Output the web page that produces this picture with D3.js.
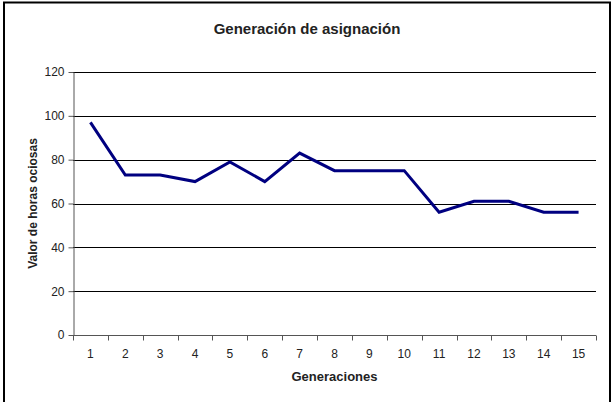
<!DOCTYPE html>
<html>
<head>
<meta charset="utf-8">
<script src="https://cdn.jsdelivr.net/npm/d3@7"></script>
<style>
  body { margin: 0; background: #fff; }
  text { font-family: "Liberation Sans", Arial, sans-serif; }
</style>
</head>
<body>
<div id="chart"></div>
<script>
// chart data
var generations = [1, 2, 3, 4, 5, 6, 7, 8, 9, 10, 11, 12, 13, 14, 15];
var idleHours = [97, 73, 73, 70, 79, 70, 83, 75, 75, 75, 56, 61, 61, 56, 56];
var yTicks = [0, 20, 40, 60, 80, 100, 120];

var svgWidth = 614, svgHeight = 402;
var margin = { top: 72, right: 18, bottom: 67, left: 73 };
var chartWidth = svgWidth - margin.left - margin.right;
var chartHeight = svgHeight - margin.top - margin.bottom;

var svg = d3.select("#chart").append("svg")
    .attr("width", svgWidth)
    .attr("height", svgHeight);

// outer frame of the chart object
svg.append("path")
    .attr("d", "M4,402 L4,2.5 L610,2.5 L610,402")
    .attr("fill", "none")
    .attr("stroke", "#000")
    .attr("stroke-width", 2);

var chartGroup = svg.append("g")
    .attr("transform", `translate(${margin.left}, ${margin.top})`);

var xScale = d3.scaleBand()
    .domain(generations)
    .range([0, chartWidth]);

var yScale = d3.scaleLinear()
    .domain([0, 120])
    .range([chartHeight, 0]);

// gridlines
chartGroup.append("g")
    .selectAll("line")
    .data(yTicks.filter(d => d > 0))
    .enter()
    .append("line")
    .attr("x1", 0)
    .attr("x2", chartWidth)
    .attr("y1", d => Math.round(yScale(d)) + 0.5)
    .attr("y2", d => Math.round(yScale(d)) + 0.5)
    .attr("stroke", "#000")
    .attr("stroke-width", 1);

// y axis
var yAxis = chartGroup.append("g")
    .attr("transform", "translate(0.5, 0)")
    .call(d3.axisLeft(yScale).tickValues(yTicks).tickSize(5).tickSizeOuter(0).tickPadding(4));
yAxis.selectAll("text")
    .attr("font-size", 12)
    .attr("font-family", "'Liberation Sans', Arial, sans-serif")
    .attr("fill", "#222");
yAxis.select(".domain").attr("stroke", "#555");
yAxis.selectAll(".tick line").attr("stroke", "#555");

// x axis: ticks between categories
var xAxisG = chartGroup.append("g")
    .attr("transform", `translate(0, ${Math.round(chartHeight) + 0.5})`);
xAxisG.append("line")
    .attr("x1", 0).attr("x2", chartWidth)
    .attr("stroke", "#555");
xAxisG.selectAll(".xtick")
    .data(d3.range(generations.length + 1))
    .enter()
    .append("line")
    .attr("class", "xtick")
    .attr("x1", i => Math.round(i * xScale.step()) + 0.5)
    .attr("x2", i => Math.round(i * xScale.step()) + 0.5)
    .attr("y1", 0)
    .attr("y2", 5)
    .attr("stroke", "#555");
xAxisG.selectAll(".xlabel")
    .data(generations)
    .enter()
    .append("text")
    .attr("class", "xlabel")
    .attr("x", d => xScale(d) + xScale.bandwidth() / 2)
    .attr("y", 22)
    .attr("text-anchor", "middle")
    .attr("font-size", 12)
    .attr("fill", "#222")
    .text(d => d);

// the line
var line = d3.line()
    .x((d, i) => xScale(generations[i]) + xScale.bandwidth() / 2)
    .y(d => yScale(d));

chartGroup.append("path")
    .datum(idleHours)
    .attr("d", line)
    .attr("fill", "none")
    .attr("stroke", "#000080")
    .attr("stroke-width", 3)
    .attr("stroke-linejoin", "miter");

// title
svg.append("text")
    .attr("x", 307)
    .attr("y", 34)
    .attr("text-anchor", "middle")
    .attr("font-size", 15)
    .attr("font-weight", "bold")
    .attr("fill", "#222")
    .text("Generación de asignación");

// axis labels
chartGroup.append("text")
    .attr("transform", `translate(${chartWidth / 2}, ${chartHeight + 46})`)
    .attr("text-anchor", "middle")
    .attr("font-size", 13)
    .attr("font-weight", "bold")
    .attr("fill", "#222")
    .text("Generaciones");

chartGroup.append("text")
    .attr("transform", "rotate(-90)")
    .attr("x", -chartHeight / 2)
    .attr("y", -36)
    .attr("text-anchor", "middle")
    .attr("font-size", 12)
    .attr("font-weight", "bold")
    .attr("fill", "#222")
    .text("Valor de horas ociosas");
</script>
</body>
</html>
